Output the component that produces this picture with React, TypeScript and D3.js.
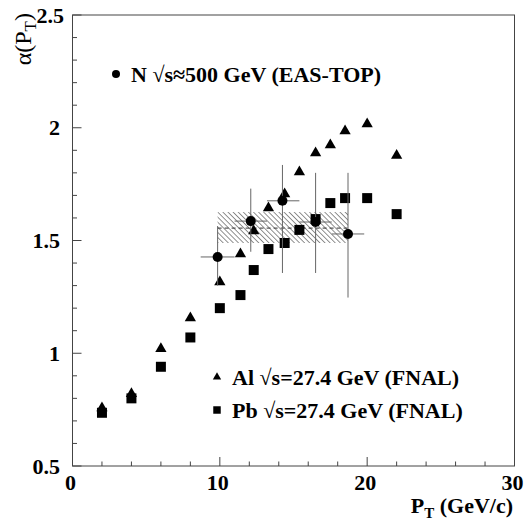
import React, { useEffect, useRef } from "react";
import * as d3 from "d3";

// FNAL Al / Pb points (same pT bins)
const ptBins = [2, 4, 6, 8, 10, 11.4, 12.3, 13.3, 14.4, 15.4, 16.5, 17.5, 18.5, 20, 22];
const alAlpha = [0.757, 0.82, 1.02, 1.156, 1.316, 1.44, 1.542, 1.644, 1.706, 1.804, 1.888, 1.924, 1.986, 2.017, 1.877];
const pbAlpha = [0.736, 0.8, 0.94, 1.07, 1.2, 1.258, 1.369, 1.462, 1.489, 1.547, 1.595, 1.666, 1.688, 1.688, 1.617];

// EAS-TOP points with errors
const easPt = [9.85, 12.1, 14.25, 16.5, 18.7];
const easAlpha = [1.427, 1.586, 1.676, 1.582, 1.529];
const easPtLo = [8.7, 11.0, 13.2, 15.4, 17.6];
const easPtHi = [11.0, 13.2, 15.4, 17.6, 19.8];
const easAlphaLo = [1.3, 1.45, 1.356, 1.356, 1.247];
const easAlphaHi = [1.564, 1.73, 1.835, 1.8, 1.8];

// averaged band
const bandPt = [9.85, 18.7];
const bandAlpha = [1.489, 1.626];
const bandMean = 1.555;

const xTicks = [0, 10, 20, 30];
const yTicks = [0.5, 1, 1.5, 2, 2.5];

const W = 529;
const H = 524;

export default function App() {
  const svgRef = useRef<SVGSVGElement>(null);

  useEffect(() => {
    const svg = d3.select(svgRef.current);
    svg.selectAll("*").remove();

    const x = d3.scaleLinear().domain([0, 30]).range([72.5, 514.5]);
    const y = d3.scaleLinear().domain([0.5, 2.5]).range([466, 15]);
    const font = "'Liberation Serif', 'Times New Roman', serif";
    const axisColor = "#444";

    // hatch pattern
    const defs = svg.append("defs");
    const pat = defs
      .append("pattern")
      .attr("id", "hatch")
      .attr("patternUnits", "userSpaceOnUse")
      .attr("width", 3.6)
      .attr("height", 3.6)
      .attr("patternTransform", "rotate(-45)");
    pat
      .append("line")
      .attr("x1", 0)
      .attr("y1", 0)
      .attr("x2", 0)
      .attr("y2", 3.6)
      .attr("stroke", "#555")
      .attr("stroke-width", 1.3);

    // frame
    svg
      .append("rect")
      .attr("x", x(0))
      .attr("y", y(2.5))
      .attr("width", x(30) - x(0))
      .attr("height", y(0.5) - y(2.5))
      .attr("fill", "none")
      .attr("stroke", axisColor)
      .attr("stroke-width", 1);

    // x ticks (inward)
    const xt = svg.append("g").attr("stroke", axisColor);
    d3.range(0, 30.01, 2).forEach((v) => {
      const len = v % 10 === 0 ? 9 : 4.5;
      xt.append("line")
        .attr("x1", x(v))
        .attr("x2", x(v))
        .attr("y1", y(0.5))
        .attr("y2", y(0.5) - len);
    });
    // y ticks (inward)
    const yt = svg.append("g").attr("stroke", axisColor);
    d3.range(0.5, 2.501, 0.1).forEach((v) => {
      const major = Math.abs(v * 2 - Math.round(v * 2)) < 1e-6;
      yt.append("line")
        .attr("x1", x(0))
        .attr("x2", x(0) + (major ? 9 : 4.5))
        .attr("y1", y(v))
        .attr("y2", y(v));
    });

    // tick labels
    svg
      .append("g")
      .selectAll("text")
      .data(xTicks)
      .enter()
      .append("text")
      .attr("x", (d) => x(d) - 2)
      .attr("y", 490)
      .attr("text-anchor", "middle")
      .attr("font-family", font)
      .attr("font-weight", "bold")
      .attr("font-size", 22)
      .text((d) => d3.format("d")(d));

    svg
      .append("g")
      .selectAll("text")
      .data(yTicks)
      .enter()
      .append("text")
      .attr("x", (d) => (d === 2.5 ? 64 : 60))
      .attr("y", (d) => y(d) + 7.5)
      .attr("text-anchor", "end")
      .attr("font-family", font)
      .attr("font-weight", "bold")
      .attr("font-size", 22)
      .text((d) => (d === 1 || d === 2 ? String(d) : d3.format(".1f")(d)));

    // axis titles
    const xTitle = svg
      .append("text")
      .attr("x", 513)
      .attr("y", 513)
      .attr("text-anchor", "end")
      .attr("font-family", font)
      .attr("font-weight", "bold")
      .attr("font-size", 22);
    xTitle.append("tspan").text("P");
    xTitle.append("tspan").attr("font-size", 15).attr("dy", 5).text("T");
    xTitle.append("tspan").attr("dy", -5).text(" (GeV/c)");

    const yTitle = svg
      .append("text")
      .attr("transform", "translate(31,13) rotate(-90)")
      .attr("text-anchor", "end")
      .attr("font-family", font)
      .attr("font-size", 24);
    yTitle.append("tspan").text("α(P");
    yTitle.append("tspan").attr("font-size", 17).attr("dy", 5).text("T");
    yTitle.append("tspan").attr("dy", -5).text(")");

    // band
    svg
      .append("rect")
      .attr("x", x(bandPt[0]))
      .attr("y", y(bandAlpha[1]))
      .attr("width", x(bandPt[1]) - x(bandPt[0]))
      .attr("height", y(bandAlpha[0]) - y(bandAlpha[1]))
      .attr("fill", "url(#hatch)");
    svg
      .append("line")
      .attr("x1", x(bandPt[0]))
      .attr("x2", x(bandPt[1]))
      .attr("y1", y(bandMean))
      .attr("y2", y(bandMean))
      .attr("stroke", "#333")
      .attr("stroke-width", 1)
      .attr("stroke-dasharray", "4,3");

    // markers
    const tri = d3.symbol().type(d3.symbolTriangle).size(55);
    const sq = d3.symbol().type(d3.symbolSquare).size(100);

    svg
      .append("g")
      .selectAll("path")
      .data(ptBins)
      .enter()
      .append("path")
      .attr("d", tri)
      .attr("transform", (d, i) => `translate(${x(d)},${y(alAlpha[i])})`)
      .attr("fill", "#000");

    svg
      .append("g")
      .selectAll("path")
      .data(ptBins)
      .enter()
      .append("path")
      .attr("d", sq)
      .attr("transform", (d, i) => `translate(${x(d)},${y(pbAlpha[i])})`)
      .attr("fill", "#000");

    // EAS-TOP error bars and points
    const eg = svg.append("g").attr("stroke", "#666").attr("stroke-width", 1);
    easPt.forEach((p, i) => {
      eg.append("line")
        .attr("x1", x(easPtLo[i]))
        .attr("x2", x(easPtHi[i]))
        .attr("y1", y(easAlpha[i]))
        .attr("y2", y(easAlpha[i]));
      eg.append("line")
        .attr("x1", x(p))
        .attr("x2", x(p))
        .attr("y1", y(easAlphaLo[i]))
        .attr("y2", y(easAlphaHi[i]));
    });
    svg
      .append("g")
      .selectAll("circle")
      .data(easPt)
      .enter()
      .append("circle")
      .attr("cx", (d) => x(d))
      .attr("cy", (d, i) => y(easAlpha[i]))
      .attr("r", 5)
      .attr("fill", "#000");

    // legends
    const legend = [
      { label: "N √s≈500 GeV (EAS-TOP)", kind: "circle", mx: 116, my: 74 },
      { label: "Al √s=27.4 GeV (FNAL)", kind: "tri", mx: 217, my: 377 },
      { label: "Pb √s=27.4 GeV (FNAL)", kind: "sq", mx: 217, my: 410 },
    ];
    legend.forEach((l) => {
      if (l.kind === "circle") {
        svg.append("circle").attr("cx", l.mx).attr("cy", l.my).attr("r", 4).attr("fill", "#000");
      } else {
        const s = l.kind === "tri" ? d3.symbol().type(d3.symbolTriangle).size(30) : d3.symbol().type(d3.symbolSquare).size(56);
        svg
          .append("path")
          .attr("d", s)
          .attr("transform", `translate(${l.mx},${l.my})`)
          .attr("fill", "#000");
      }
      svg
        .append("text")
        .attr("x", l.mx + 15)
        .attr("y", l.my + 7.5)
        .attr("font-family", font)
        .attr("font-weight", "bold")
        .attr("font-size", 22)
        .text(l.label);
    });
  }, []);

  return (
    <div style={{ position: "absolute", left: 0, top: 0, background: "#fff" }}>
      <svg ref={svgRef} width={W} height={H} />
    </div>
  );
}
